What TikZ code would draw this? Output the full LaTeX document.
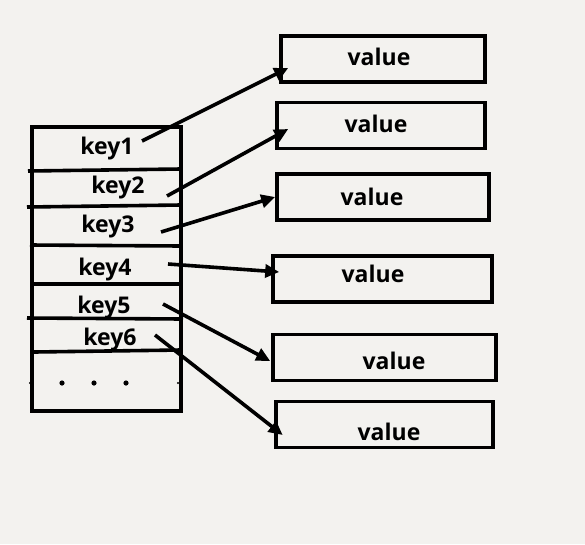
\documentclass[tikz,border=0pt]{standalone}
\usepackage{fontspec}
\setmainfont{Open Sans}
\usepackage{tikz}
\usetikzlibrary{arrows.meta}
\definecolor{paper}{HTML}{F3F2EF}

\begin{document}
\begin{tikzpicture}[x=1pt, y=-1pt, line width=3.6pt,
    keytext/.style={font=\fontsize{23}{27}\selectfont\bfseries, inner sep=0pt},
    valbox/.style={draw, rectangle, minimum height=46pt, inner sep=0pt,
        label={[font=\fontsize{23}{27}\selectfont\bfseries, #1]center:value}},
    link/.style={-{Triangle[length=14pt, width=13pt]}}]
\fill[paper] (0,0) rectangle (585,544);
\useasboundingbox (0,0) rectangle (585,544);
% table of keys
\draw (32,127) rectangle (181,411);
\draw (28,171) -- (181,169);
\draw (27,207) -- (181,205);
\draw (30,245) -- (181,246);
\draw (32,284) -- (181,284);
\draw (27,318) -- (183,319);
\draw (34,352) -- (181,350);
\foreach \x in {62,94,126} \fill (\x,383) circle (2.6pt);
\foreach \x in {30,178} \fill (\x,383) circle (1.2pt);
\node[keytext] (key1) at (107,149) {key1};
\node[keytext] (key2) at (118,188) {key2};
\node[keytext] (key3) at (108,227) {key3};
\node[keytext] (key4) at (105,270) {key4};
\node[keytext] (key5) at (104,308) {key5};
\node[keytext] (key6) at (110,340) {key6};
% values
\node[valbox={shift={(-4pt,2pt)}}, minimum width=204pt] (val1) at (383,59) {};
\node[valbox={shift={(-5pt,1.5pt)}}, minimum width=208pt] (val2) at (381,125.5) {};
\node[valbox={shift={(-11pt,0pt)}}, minimum width=212pt] (val3) at (383,197) {};
\node[valbox={shift={(-9.5pt,5pt)}}, minimum width=219pt] (val4) at (382.5,279) {};
\node[valbox={shift={(9.5pt,-3.5pt)}}, minimum width=223pt] (val5) at (384.5,357.5) {};
\node[valbox={shift={(4.5pt,-7.5pt)}}, minimum width=217pt] (val6) at (384.5,424.5) {};
% pointers
\coordinate (p1) at (142,141);
\coordinate (p2) at (167,196);
\coordinate (p3) at (161,232);
\coordinate (p4) at (168,264);
\coordinate (p5) at (163,304);
\coordinate (p6) at (155,335);
\draw[link] (p1) -- ([shift={(9,9)}]val1.west);
\draw[link] (p2) -- ([shift={(13,3.5)}]val2.west);
\draw[link] (p3) -- (val3.west);
\draw[link] (p4) -- ([shift={(8,-7)}]val4.west);
\draw[link] (p5) -- ([shift={(-1,3.5)}]val5.west);
\draw[link] (p6) -- ([shift={(8.5,10.5)}]val6.west);
\end{tikzpicture}
\end{document}
